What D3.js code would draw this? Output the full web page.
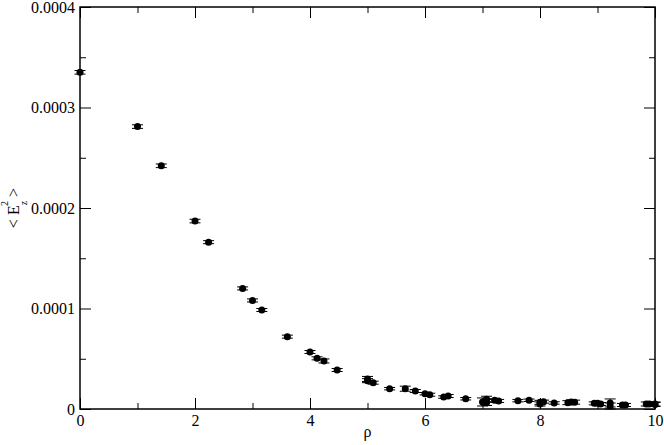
<!DOCTYPE html>
<html><head><meta charset="utf-8">
<script src="https://cdn.jsdelivr.net/npm/d3@7"></script>
<style>body{margin:0;background:#fff}</style>
</head><body>
<svg id="chart" width="664" height="445"></svg>
<script>
const rho = [0, 1, 1.414, 2, 2.236, 2.828, 3, 3.162, 3.606, 4, 4.123, 4.243, 4.472,
  5, 5, 5.099, 5.385, 5.657, 5.831, 6, 6.083, 6.325, 6.403, 6.708,
  7, 7.071, 7.071, 7.211, 7.280, 7.616, 7.810, 8, 8, 8.062, 8.246,
  8.485, 8.544, 8.602, 8.944, 9, 9.055, 9.220, 9.220, 9.434, 9.487,
  9.849, 9.899, 10, 10];
const meanE2 = [0.000335, 0.000281, 0.000242, 0.000187, 0.000166, 0.000120, 0.000108, 0.0000985, 0.0000720, 0.0000567, 0.0000504, 0.0000478, 0.0000388,
  0.0000299, 0.0000282, 0.0000262, 0.0000202, 0.0000202, 0.0000179, 0.0000152, 0.0000142, 0.0000119, 0.0000129, 0.0000102,
  0.0000070, 0.0000097, 0.0000065, 0.0000087, 0.0000080, 0.0000083, 0.0000087, 0.0000066, 0.0000050, 0.0000073, 0.0000060,
  0.0000063, 0.0000070, 0.0000068, 0.0000056, 0.0000056, 0.0000050, 0.0000060, 0.0000030, 0.0000040, 0.0000040,
  0.0000050, 0.0000050, 0.0000050, 0.0000045];
const errE2 = [0.0000018, 0.0000018, 0.0000018, 0.0000018, 0.0000015, 0.0000015, 0.0000015, 0.0000015, 0.0000015, 0.0000015, 0.0000015, 0.000002, 0.0000015,
  0.0000025, 0.000002, 0.0000015, 0.0000012, 0.0000025, 0.0000015, 0.0000012, 0.0000015, 0.0000012, 0.0000015, 0.0000012,
  0.000004, 0.000003, 0.000003, 0.0000015, 0.0000015, 0.0000012, 0.0000012, 0.000002, 0.000002, 0.0000015, 0.0000012,
  0.000002, 0.000002, 0.000002, 0.0000015, 0.0000015, 0.0000015, 0.000004, 0.000003, 0.0000015, 0.0000015,
  0.000002, 0.000002, 0.000002, 0.000002];
const xTicks = [0, 2, 4, 6, 8, 10];
const xMinor = [1, 3, 5, 7, 9];
const yTicks = [0, 0.0001, 0.0002, 0.0003, 0.0004];
const yTickLabels = ["0", "0.0001", "0.0002", "0.0003", "0.0004"];
const yMinor = [0.00005, 0.00015, 0.00025, 0.00035];
const xTitle = "ρ";

const svg = d3.select("#chart");
const L = 80, R = 655, T = 7, B = 409;
const x = d3.scaleLinear().domain([0, 10]).range([L, R]);
const y = d3.scaleLinear().domain([0, 0.0004]).range([B, T]);
const font = "Liberation Serif";

function styleAxis(g) {
  g.attr("font-family", font);
  g.select(".domain").remove();
  g.selectAll("line").attr("stroke", "#000").attr("stroke-width", 1);
  g.selectAll("text").attr("font-family", font).attr("font-size", 16).attr("fill", "#000");
}
// bottom
svg.append("g").attr("transform", `translate(0,${B})`)
  .call(d3.axisBottom(x).tickValues(xTicks).tickSizeInner(-11).tickSizeOuter(0).tickPadding(6).tickFormat(d3.format("d")))
  .call(styleAxis);
svg.append("g").attr("transform", `translate(0,${B})`)
  .call(d3.axisBottom(x).tickValues(xMinor).tickSizeInner(-6).tickSizeOuter(0).tickFormat(""))
  .call(styleAxis);
// top
svg.append("g").attr("transform", `translate(0,${T})`)
  .call(d3.axisTop(x).tickValues(xTicks).tickSizeInner(-11).tickSizeOuter(0).tickFormat(""))
  .call(styleAxis);
svg.append("g").attr("transform", `translate(0,${T})`)
  .call(d3.axisTop(x).tickValues(xMinor).tickSizeInner(-6).tickSizeOuter(0).tickFormat(""))
  .call(styleAxis);
// left
svg.append("g").attr("transform", `translate(${L},0)`)
  .call(d3.axisLeft(y).tickValues(yTicks).tickSizeInner(-11).tickSizeOuter(0).tickPadding(5)
    .tickFormat((d, i) => yTickLabels[i]))
  .call(styleAxis);
svg.append("g").attr("transform", `translate(${L},0)`)
  .call(d3.axisLeft(y).tickValues(yMinor).tickSizeInner(-6).tickSizeOuter(0).tickFormat(""))
  .call(styleAxis);
// right
svg.append("g").attr("transform", `translate(${R},0)`)
  .call(d3.axisRight(y).tickValues(yTicks).tickSizeInner(-11).tickSizeOuter(0).tickFormat(""))
  .call(styleAxis);
svg.append("g").attr("transform", `translate(${R},0)`)
  .call(d3.axisRight(y).tickValues(yMinor).tickSizeInner(-6).tickSizeOuter(0).tickFormat(""))
  .call(styleAxis);

// frame
svg.append("rect").attr("x", L).attr("y", T).attr("width", R - L).attr("height", B - T)
  .attr("fill", "none").attr("stroke", "#000").attr("stroke-width", 1.5);

// data
const data = rho.map((r, i) => ({ r, v: meanE2[i], e: errE2[i] }));
const eb = svg.append("g").attr("stroke", "#000").attr("stroke-width", 1);
data.forEach(d => {
  const cx = x(d.r), y1 = y(d.v + d.e), y2 = y(d.v - d.e);
  eb.append("line").attr("x1", cx).attr("x2", cx).attr("y1", y1).attr("y2", y2);
  eb.append("line").attr("x1", cx - 5.5).attr("x2", cx + 5.5).attr("y1", y1).attr("y2", y1);
  eb.append("line").attr("x1", cx - 5.5).attr("x2", cx + 5.5).attr("y1", y2).attr("y2", y2);
});
svg.append("g").selectAll("circle").data(data).join("circle")
  .attr("cx", d => x(d.r)).attr("cy", d => y(d.v)).attr("r", 3.5).attr("fill", "#000");

// titles
svg.append("text").attr("x", (L + R) / 2).attr("y", 437).attr("text-anchor", "middle")
  .attr("font-family", font).attr("font-size", 16).text(xTitle);
const yt = svg.append("text").attr("transform", "translate(19,208) rotate(-90)")
  .attr("text-anchor", "middle").attr("font-family", font).attr("font-size", 16);
yt.append("tspan").text("< E");
yt.append("tspan").attr("font-size", 10).attr("dy", 8).text("z");
yt.append("tspan").attr("font-size", 10).attr("dx", -5).attr("dy", -19).text("2");
yt.append("tspan").attr("dy", 11).text(" >");
</script>
</body></html>
